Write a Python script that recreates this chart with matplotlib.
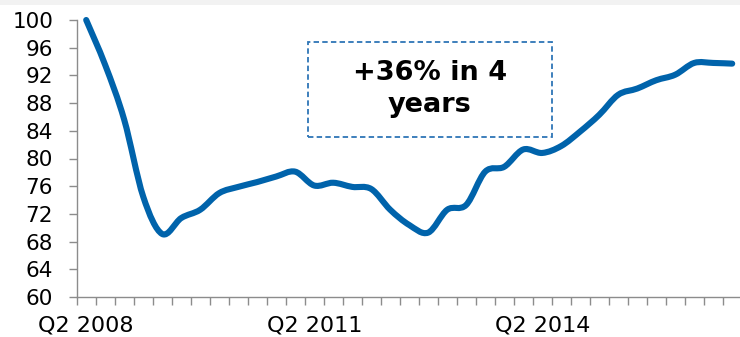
import numpy as np
import matplotlib
matplotlib.use("Agg")
import matplotlib.pyplot as plt
from matplotlib.path import Path
from matplotlib.patches import PathPatch, Rectangle

# квартальні значення індексу, Q2 2008 .. Q4 2016
values = [100.0, 93.5, 85.6, 74.5, 69.1, 71.4, 72.6, 75.0, 75.9, 76.6,
          77.4, 78.1, 76.1, 76.5, 75.9, 75.6, 72.6, 70.4, 69.3, 72.6,
          73.3, 78.1, 78.8, 81.3, 80.8, 81.8, 83.9, 86.3, 89.2, 90.1,
          91.3, 92.1, 93.8, 93.8, 93.7]
tick_labels = {0: "Q2 2008", 12: "Q2 2011", 24: "Q2 2014"}
y_ticks = list(range(60, 101, 4))
note = "+36% in 4\nyears"

line_color = "#0063AB"
axis_color = "#8C8C8C"

x = np.arange(len(values))
y = np.array(values)

fig = plt.figure(figsize=(7.4, 3.37), dpi=100)
fig.patches.append(Rectangle((0, 1 - 5 / 337), 1, 5 / 337, transform=fig.transFigure,
                             facecolor="#F2F2F2", edgecolor="none"))
ax = fig.add_axes([76.7 / 740, 40 / 337, 665 / 740, 277 / 337])

# згладжена лінія (як у Excel) через криві Безьє
pts = np.column_stack([x, y])
ext = np.vstack([pts[0], pts, pts[-1]])
verts = [pts[0]]
codes = [Path.MOVETO]
for i in range(len(pts) - 1):
    p0, p1, p2, p3 = ext[i], ext[i + 1], ext[i + 2], ext[i + 3]
    verts += [p1 + (p2 - p0) / 6, p2 - (p3 - p1) / 6, p2]
    codes += [Path.CURVE4] * 3
ax.add_patch(PathPatch(Path(verts, codes), facecolor="none", edgecolor=line_color,
                       linewidth=4.4, capstyle="round", joinstyle="round", clip_on=False))

ax.set_xlim(-0.5, len(values) - 0.5)
ax.set_ylim(60, 100)

ax.set_yticks(y_ticks)
ax.tick_params(axis="y", direction="out", length=6, width=1, color=axis_color,
               labelsize=15.5, pad=11)
ax.set_xticks(list(tick_labels.keys()))
ax.set_xticklabels(list(tick_labels.values()))
ax.tick_params(axis="x", which="major", length=0, labelsize=16, pad=13.5)
ax.set_xticks(np.arange(-0.5, len(values), 1), minor=True)
ax.tick_params(axis="x", which="minor", direction="out", length=5.5, width=1, color=axis_color)

for s in ["top", "right"]:
    ax.spines[s].set_visible(False)
for s in ["left", "bottom"]:
    ax.spines[s].set_color(axis_color)
    ax.spines[s].set_linewidth(1)

# рамка з підписом
box = Rectangle((308 / 740, 1 - 137 / 337), 244 / 740, 95 / 337, transform=fig.transFigure,
                facecolor="white", edgecolor="#2E75B6", linewidth=1.3, linestyle=(0, (3, 1.8)))
fig.patches.append(box)
fig.text(430 / 740, 1 - 89 / 337, note, ha="center", va="center", fontsize=19.5,
         fontweight="bold", linespacing=1.3)

fig.savefig("out.png", dpi=100)
